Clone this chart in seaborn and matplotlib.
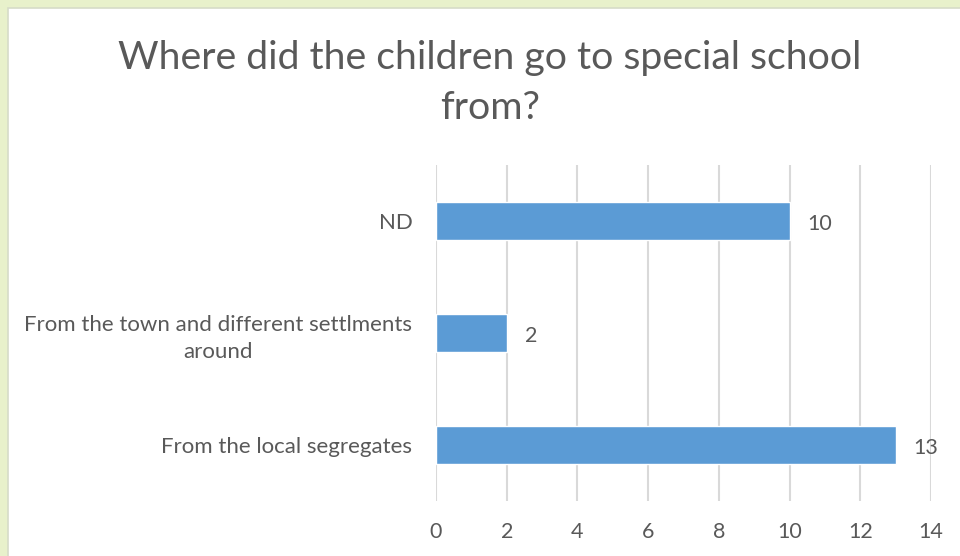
import matplotlib
matplotlib.use("Agg")
import matplotlib.pyplot as plt
from matplotlib.patches import Rectangle
import seaborn as sns
import pandas as pd

categories = ["ND", "From the town and different settlments\naround", "From the local segregates"]
counts = [10, 2, 13]
x_ticks = [0, 2, 4, 6, 8, 10, 12, 14]

sns.set_theme(style="white")
plt.rcParams["font.family"] = ["Lato", "DejaVu Sans"]

text_color = "#595959"
bar_color = "#5b9bd5"
grid_color = "#d9d9d9"

df = pd.DataFrame({"source": categories, "count": counts})

fig = plt.figure(figsize=(9.6, 5.56), dpi=100)
fig.patch.set_facecolor("#e8f1cb")
# white chart area inset from the top-left corner
fig.patches.append(Rectangle((8 / 960, -0.1), 1.2, 1 - 8 / 556 + 0.1,
                             transform=fig.transFigure, facecolor="white",
                             edgecolor="#d6dcc8", linewidth=1.2, zorder=-5))

ax = fig.add_axes([436 / 960, 1 - 501 / 556, (931 - 436) / 960, (501 - 165) / 556])
ax.set_facecolor("none")

sns.barplot(data=df, x="count", y="source", orient="h", color=bar_color,
            width=0.34, saturation=1, ax=ax, zorder=3)

ax.set_xlim(0, 14)
ax.set_ylim(2.5, -0.5)
ax.set_xticks(x_ticks)
ax.set_xticklabels([str(t) for t in x_ticks])
ax.xaxis.grid(True, color=grid_color, linewidth=1.5, zorder=0)
ax.yaxis.grid(False)
for s in ax.spines.values():
    s.set_visible(False)
ax.set_xlabel("")
ax.set_ylabel("")
ax.tick_params(axis="x", length=0, pad=15, labelsize=15.5, labelcolor=text_color)
ax.tick_params(axis="y", length=0, pad=17, labelsize=16, labelcolor=text_color)

# wrapped category labels stay right-aligned, each line centred on the block
for lab in ax.get_yticklabels():
    lab.set_multialignment("center")
    lab.set_linespacing(1.45)

for i, v in enumerate(counts):
    ax.annotate(str(v), (v, i), xytext=(13, -2.5), textcoords="offset points",
                ha="left", va="center", fontsize=15.5, color=text_color)

fig.text(490 / 960, 1 - 83 / 556, "Where did the children go to special school\nfrom?",
         ha="center", va="center", fontsize=28.3, color=text_color, linespacing=1.5)

fig.savefig("out.png", dpi=100, facecolor=fig.get_facecolor())
